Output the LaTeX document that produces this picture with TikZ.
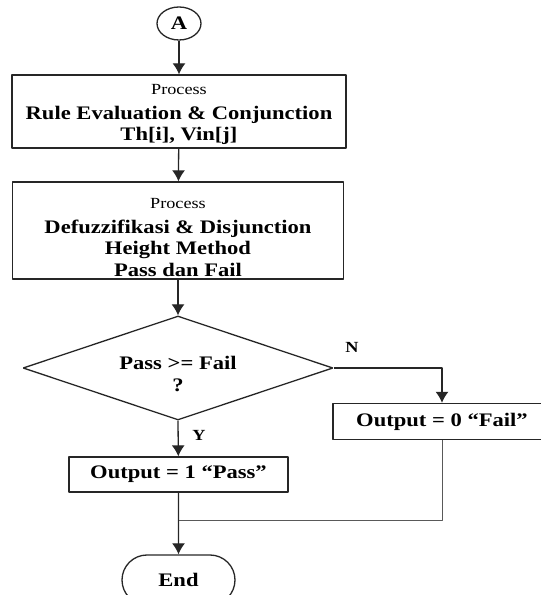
\documentclass[tikz,border=0pt]{standalone}
\usepackage{fontspec}
\setmainfont{Liberation Serif}[FakeStretch=1.18]
\usetikzlibrary{arrows.meta,shapes.geometric,shapes.misc}
\newcommand{\procfont}{\fontsize{15.5}{18}\selectfont\mdseries}
\begin{document}
\begin{tikzpicture}[line join=bevel,
  every node/.style={font=\fontsize{19.2}{21.5}\selectfont\bfseries},
  link/.style={line width=1.3bp,draw=black!85},
  arr/.style={link,-{Latex[length=11bp,width=13bp]}},
  proc/.style={draw,link,align=center,inner sep=0pt},
  decide/.style={draw,link,diamond,aspect=3,align=center,inner sep=0pt},
  lbl/.style={font=\fontsize{15.5}{18}\selectfont\bfseries}]
\useasboundingbox (0bp,0bp) rectangle (541bp,595bp);
%%
\node (node_a) at (179bp,571.5bp) [draw,link,ellipse,minimum width=44bp,minimum height=33bp,inner sep=0pt] {A};
  \node (node_rule) at (179bp,483.5bp) [proc,minimum width=334bp,minimum height=73bp] {{\procfont\rule{0pt}{16bp}Process}\\[4bp]Rule Evaluation \& Conjunction\\Th[i], Vin[j]};
  \node (node_defuzz) at (178bp,364.5bp) [proc,minimum width=331bp,minimum height=97bp] {{\procfont\rule{0pt}{24bp}Process}\\[3bp]Defuzzifikasi \& Disjunction\\Height Method\\Pass dan Fail};
  \node (node_test) at (178bp,227bp) [decide,minimum width=310bp,minimum height=104bp] {\rule{0pt}{25bp}Pass >= Fail\\?};
  \node (node_fail) at (442bp,173.5bp) [proc,minimum width=218bp,minimum height=36bp] {Output = 0 “Fail”};
  \node (node_pass) at (178.5bp,120.5bp) [proc,minimum width=219bp,minimum height=35bp] {Output = 1 “Pass”};
  \node (node_end) at (178.5bp,15bp) [draw,link,rounded rectangle,minimum width=113bp,minimum height=50bp,inner sep=0pt] {End};
  \coordinate (join) at (178.5bp,74bp);
  \node (lbl_n) at (352bp,248bp) [lbl] {N};
  \node (lbl_y) at (199bp,160bp) [lbl] {Y};
  \draw [arr] (node_a) -- (node_rule);
  \draw [arr] (node_rule) -- (node_defuzz);
  \draw [arr] (node_defuzz) -- (node_test);
  \draw [arr] (node_test.east) -| (node_fail);
  \draw [arr] (node_test.south) -- (node_pass);
  \draw [arr] (node_pass) -- (node_end);
  \draw [link,line width=1bp,draw=black!65] (node_fail.south) |- (join);
%
\end{tikzpicture}
\end{document}
